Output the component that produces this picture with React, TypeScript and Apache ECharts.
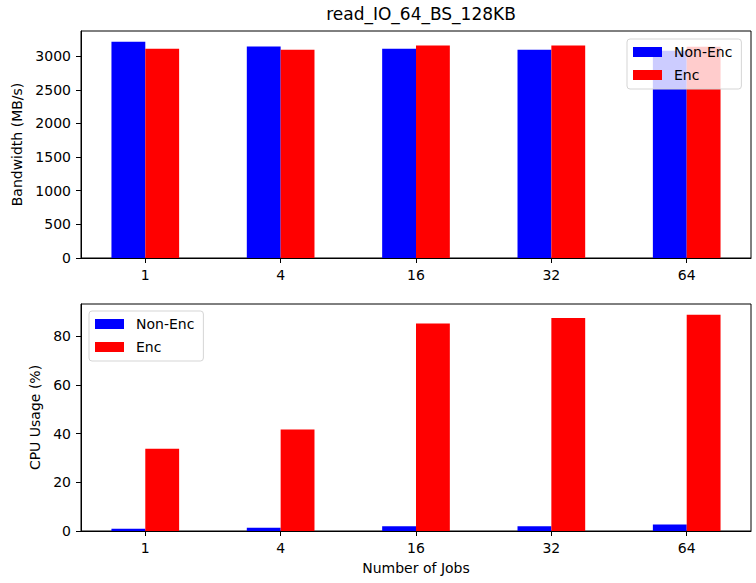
import React, { useEffect, useRef } from "react";
import * as echarts from "echarts";

const title = "read_IO_64_BS_128KB";
const jobs = ["1", "4", "16", "32", "64"];
const bwNonEnc = [3213, 3144, 3110, 3095, 3080];
const bwEnc = [3110, 3095, 3159, 3159, 3139];
const cpuNonEnc = [0.96, 1.37, 1.9, 1.9, 2.7];
const cpuEnc = [33.8, 41.7, 85.2, 87.5, 88.8];
const bwTicks = [0, 500, 1000, 1500, 2000, 2500, 3000];
const cpuTicks = [0, 20, 40, 60, 80];

const FONT = "DejaVu Sans";

export default function App() {
  const ref = useRef<HTMLDivElement>(null);
  useEffect(() => {
    if (!ref.current) return;
    const chart = echarts.init(ref.current, undefined, { renderer: "svg" });
    const idx = jobs.map((_, i) => i);
    const xAxisBase = (gridIndex: number, name?: string) => ({
      type: "value" as const,
      gridIndex,
      min: -0.475,
      max: jobs.length - 1 + 0.475,
      name: name,
      nameLocation: "middle" as const,
      nameGap: 30,
      nameTextStyle: { fontFamily: FONT, fontSize: 14, color: "#000" },
      splitLine: { show: false },
      axisLine: { show: true, onZero: false, lineStyle: { color: "#000", width: 1 } },
      axisTick: { show: true, length: 5, customValues: idx, lineStyle: { color: "#000" } },
      axisLabel: {
        customValues: idx,
        margin: 10,
        fontFamily: FONT,
        fontSize: 14,
        color: "#000",
        formatter: (v: number) => jobs[Math.round(v)] ?? "",
      },
    });
    const yAxisBase = (gridIndex: number, name: string, ticks: number[], max: number, nameGap: number) => ({
      type: "value" as const,
      gridIndex,
      min: 0,
      max,
      name,
      nameLocation: "middle" as const,
      nameGap,
      nameTextStyle: { fontFamily: FONT, fontSize: 14, color: "#000" },
      splitLine: { show: false },
      axisLine: { show: true, onZero: false, lineStyle: { color: "#000", width: 1 } },
      axisTick: { show: true, length: 5, customValues: ticks, lineStyle: { color: "#000" } },
      axisLabel: {
        customValues: ticks,
        margin: 10,
        fontFamily: FONT,
        fontSize: 14,
        color: "#000",
        formatter: (v: number) => String(v),
      },
    });
    const legendBase = (left: number, top: number) => ({
      orient: "vertical" as const,
      left,
      top,
      data: ["Non-Enc", "Enc"],
      icon: "rect",
      itemWidth: 29,
      itemHeight: 10,
      itemGap: 9,
      padding: [6, 9, 7, 6],
      backgroundColor: "rgba(255,255,255,0.8)",
      borderColor: "#d5d5d5",
      borderWidth: 1,
      borderRadius: 3,
      textStyle: { fontFamily: FONT, fontSize: 14, color: "#000", padding: [0, 0, 0, 7] },
      selectedMode: false,
    });
    const bar = (name: string, color: string, vals: number[], axisIndex: number) => ({
      type: "bar" as const,
      name,
      xAxisIndex: axisIndex,
      yAxisIndex: axisIndex,
      barWidth: "25%",
      barGap: "0%",
      itemStyle: { color },
      data: vals.map((v, i) => [i, v]),
    });
    chart.setOption({
      animation: false,
      title: {
        text: title,
        left: 416,
        top: 0,
        textAlign: "center",
        textStyle: { fontFamily: FONT, fontSize: 17, fontWeight: "normal", color: "#000" },
      },
      grid: [
        { left: 81, right: 5, top: 31, height: 227, show: true, borderColor: "#000", borderWidth: 1, backgroundColor: "transparent" },
        { left: 81, right: 5, top: 304, height: 227, show: true, borderColor: "#000", borderWidth: 1, backgroundColor: "transparent" },
      ],
      legend: [legendBase(627, 39), legendBase(89, 311)],
      xAxis: [xAxisBase(0), xAxisBase(1, "Number of Jobs")],
      yAxis: [
        yAxisBase(0, "Bandwidth (MB/s)", bwTicks, Math.max(...bwNonEnc, ...bwEnc) * 1.05, 56),
        yAxisBase(1, "CPU Usage (%)", cpuTicks, Math.max(...cpuNonEnc, ...cpuEnc) * 1.05, 38),
      ],
      series: [
        bar("Non-Enc", "#0000ff", bwNonEnc, 0),
        bar("Enc", "#ff0000", bwEnc, 0),
        bar("Non-Enc", "#0000ff", cpuNonEnc, 1),
        bar("Enc", "#ff0000", cpuEnc, 1),
      ],
    });
    return () => chart.dispose();
  }, []);
  return (
    <div
      ref={ref}
      style={{ position: "fixed", left: 0, top: 0, width: 756, height: 583, background: "#fff" }}
    />
  );
}
